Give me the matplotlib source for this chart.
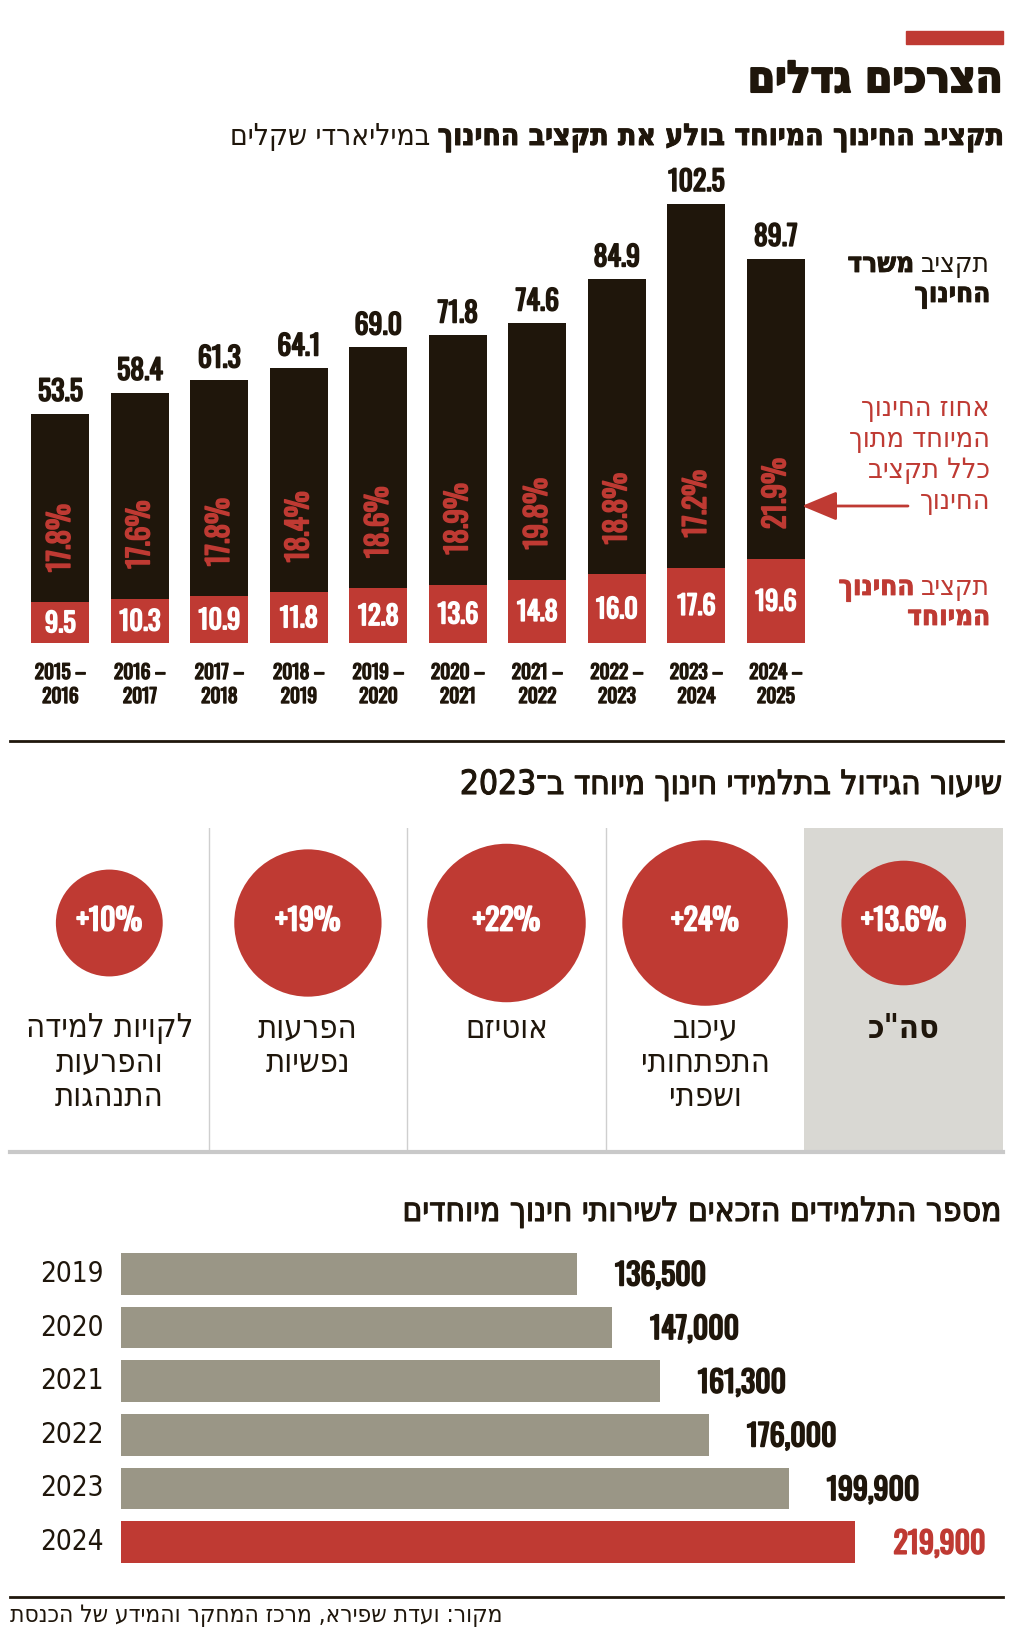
import re
import matplotlib
matplotlib.use('Agg')
import matplotlib.pyplot as plt
import matplotlib.patheffects as pe
from matplotlib.lines import Line2D

# ---- data ----
periods = ['2015 – 2016', '2016 – 2017', '2017 – 2018', '2018 – 2019', '2019 – 2020',
           '2020 – 2021', '2021 – 2022', '2022 – 2023', '2023 – 2024', '2024 – 2025']
edu_budget = [53.5, 58.4, 61.3, 64.1, 69.0, 71.8, 74.6, 84.9, 102.5, 89.7]
special_budget = [9.5, 10.3, 10.9, 11.8, 12.8, 13.6, 14.8, 16.0, 17.6, 19.6]
special_share = [17.8, 17.6, 17.8, 18.4, 18.6, 18.9, 19.8, 18.8, 17.2, 21.9]

growth_cats = ['לקויות למידה\nוהפרעות\nהתנהגות', 'הפרעות\nנפשיות', 'אוטיזם',
               'עיכוב\nהתפתחותי\nושפתי', 'סה"כ']
growth_pct = [10, 19, 22, 24, 13.6]

student_years = ['2019', '2020', '2021', '2022', '2023', '2024']
students = [136500, 147000, 161300, 176000, 199900, 219900]

# ---- style ----
DARK = '#1f160b'
RED = '#bf3a33'
GRAY = '#9a9686'
PANEL = '#d9d8d3'
HEB = 'DejaVu Sans'
NUM = 'Oswald'

W, H = 1024, 1634
fig = plt.figure(figsize=(W / 100, H / 100), dpi=100)
fig.patch.set_facecolor('white')
rend = fig.canvas.get_renderer()


def fx(px):
    return px / W


def fy(py):
    return 1 - py / H


def thick(color, lw=1.2):
    # Oswald is only installed in regular weight, fake the bold with a stroke
    return [pe.withStroke(linewidth=lw, foreground=color)]


def rtl(s):
    # matplotlib has no bidi support: flip the string, keep numbers readable
    r = s[::-1]
    return re.sub(r'\d[\d.,%]*', lambda m: m.group(0)[::-1], r)


def heb(x, y, s, size, weight='normal', color=DARK, ha='right', va='baseline', stroke=0):
    t = fig.text(fx(x), fy(y), rtl(s), fontsize=size, fontweight=weight, color=color,
                 ha=ha, va=va, family=HEB, fontstretch='condensed')
    if stroke:
        t.set_path_effects(thick(color, stroke))
    return t


def rich(x, y, parts, size, color=DARK, stroke=0):
    # parts in reading order, first one is the rightmost
    for s, weight in parts:
        t = heb(x, y, s, size, weight, color, stroke=stroke if weight == 'bold' else 0)
        x -= t.get_window_extent(renderer=rend).width + size * 0.35


def hline(y, color=DARK, lw=2):
    fig.add_artist(Line2D([fx(10), fx(1003)], [fy(y), fy(y)], color=color, lw=lw,
                          transform=fig.transFigure))


# ---- header ----
fig.add_artist(plt.Rectangle((fx(906), fy(44)), fx(97), 13 / H, color=RED,
                             transform=fig.transFigure))
heb(1003, 92, 'הצרכים גדלים', 31.5, 'bold', stroke=1.5)
rich(1003, 145, [('תקציב החינוך המיוחד בולע את תקציב החינוך', 'bold'),
                 ('במיליארדי שקלים', 'normal')], 21.5, stroke=0.7)

# ---- budget bars ----
ax1 = fig.add_axes([fx(20.6), fy(643), 795 / W, 514 / H])
ax1.set_xlim(-0.5, 9.5)
ax1.set_ylim(0, 120)
ax1.axis('off')
xs = list(range(len(edu_budget)))
ax1.bar(xs, edu_budget, width=0.73, color=DARK)
ax1.bar(xs, special_budget, width=0.73, color=RED)
for i in xs:
    ax1.annotate(f'{edu_budget[i]:.1f}', (i, edu_budget[i]), xytext=(0, 8),
                 textcoords='offset pixels', ha='center', va='bottom',
                 fontsize=20, family=NUM, color=DARK, path_effects=thick(DARK))
    ax1.annotate(f'{special_budget[i]:.1f}', (i, special_budget[i] / 2), xytext=(0, -1),
                 textcoords='offset pixels', ha='center', va='center',
                 fontsize=19, family=NUM, color='white', path_effects=thick('white'))
    ax1.annotate(f'{special_share[i]:.1f}%', (i, special_budget[i]), xytext=(0, 30),
                 textcoords='offset pixels', ha='center', va='bottom', rotation=90,
                 fontsize=21, family=NUM, color=RED, path_effects=thick(RED))
    a, b = periods[i].split(' – ')
    for line, off in ((f'{a} –', -29), (b, -53)):
        ax1.annotate(line, (i, 0), xytext=(0, off), textcoords='offset pixels',
                     ha='center', va='center', fontsize=14, family=NUM, color=DARK,
                     path_effects=thick(DARK, 1.0))

# legend on the right
rich(990, 272, [('תקציב', 'normal'), ('משרד', 'bold')], 20, stroke=0.6)
heb(990, 302, 'החינוך', 20, 'bold', stroke=0.6)
for k, line in enumerate(['אחוז החינוך', 'המיוחד מתוך', 'כלל תקציב', 'החינוך']):
    heb(990, 416 + 31 * k, line, 20.5, color=RED)
ax1.annotate('', xy=(802, H - 506), xytext=(908, H - 506), xycoords='figure pixels',
             arrowprops=dict(arrowstyle='-|>,head_length=1.2,head_width=0.5',
                             color=RED, lw=2, mutation_scale=18, shrinkA=0, shrinkB=0),
             annotation_clip=False)
rich(990, 595, [('תקציב', 'normal'), ('החינוך', 'bold')], 20, RED, stroke=0.6)
heb(990, 625, 'המיוחד', 20, 'bold', RED, stroke=0.6)

hline(741)

# ---- growth circles ----
heb(1003, 794, 'שיעור הגידול בתלמידי חינוך מיוחד ב־2023', 24, stroke=0.8)
ax2 = fig.add_axes([fx(10), fy(1151), 993 / W, 323 / H])
ax2.set_xlim(-0.5, 4.5)
ax2.set_ylim(1151, 828)
ax2.axis('off')
ax2.axvspan(3.5, 4.5, color=PANEL, lw=0)
for d in (0.5, 1.5, 2.5):
    ax2.axvline(d, color='#cfcfcf', lw=1)
ax2.scatter(range(5), [923] * 5, s=[592 * v for v in growth_pct], color=RED, lw=0, zorder=3)
for i, v in enumerate(growth_pct):
    ax2.text(i, 921, f'+{v:g}%', ha='center', va='center', fontsize=21.5,
             family=NUM, color='white', zorder=4, path_effects=thick('white', 1.3))
    for k, line in enumerate(growth_cats[i].split('\n')):
        ax2.text(i, 1028 + 34.5 * k, rtl(line), ha='center', va='center', fontsize=23.5,
                 fontweight='bold' if i == 4 else 'normal', family=HEB,
                 fontstretch='condensed', color=DARK)
hline(1152, '#c9c9c9', 3)

# ---- students bars ----
heb(1003, 1221, 'מספר התלמידים הזכאים לשירותי חינוך מיוחדים', 24, stroke=0.8)
ax3 = fig.add_axes([fx(121), fy(1569), 882 / W, 322 / H])
ax3.set_xlim(0, 882 / 0.00334)
ax3.set_ylim(5.5, -0.5)
ax3.axis('off')
ys = list(range(len(students)))
cols = [GRAY] * (len(students) - 1) + [RED]
ax3.barh(ys, students, height=0.78, color=cols)
for i in ys:
    ax3.annotate(student_years[i], (0, i), xytext=(-17, 0), textcoords='offset pixels',
                 ha='right', va='center', fontsize=20, family=HEB,
                 fontstretch='condensed', color=DARK)
    c = RED if i == len(students) - 1 else DARK
    ax3.annotate(f'{students[i]:,}', (students[i], i), xytext=(38, -2),
                 textcoords='offset pixels', ha='left', va='center', fontsize=21.5,
                 family=NUM, color=c, path_effects=thick(c, 1.3))

hline(1597)
fig.text(fx(10), fy(1622), rtl('מקור: ועדת שפירא, מרכז המחקר והמידע של הכנסת'),
         fontsize=17.5, family=HEB, fontstretch='condensed', color=DARK, ha='left', va='baseline')

fig.savefig('out.png', dpi=100)
